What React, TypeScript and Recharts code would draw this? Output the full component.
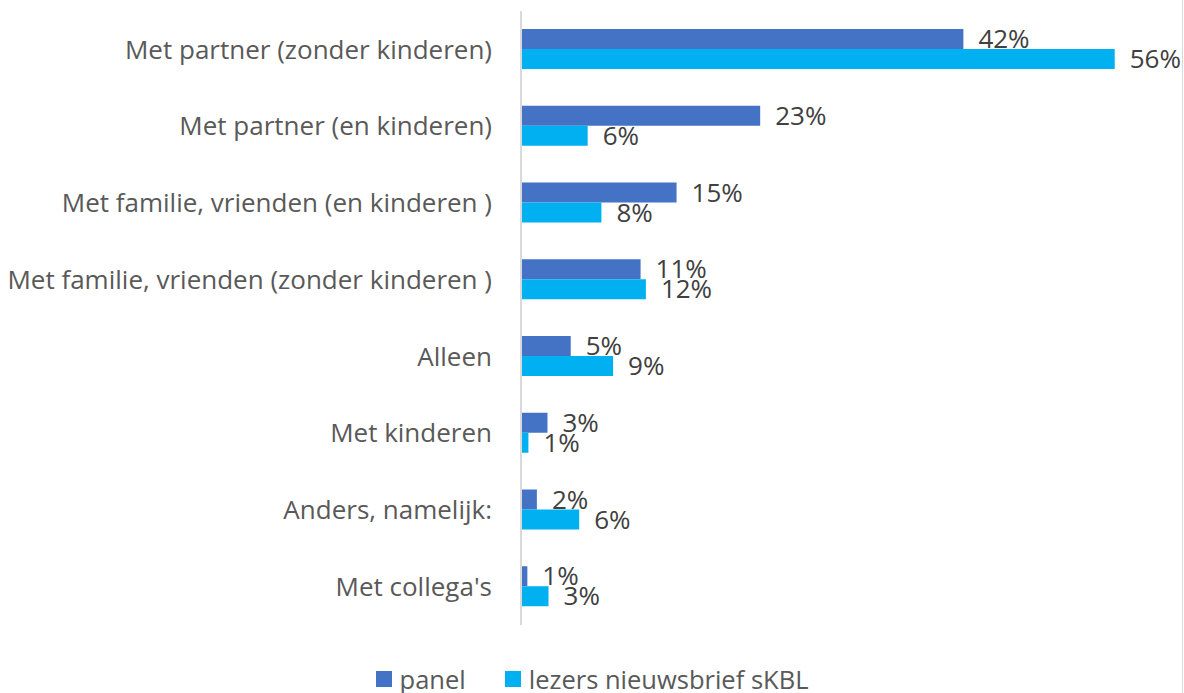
import { Bar, BarChart, LabelList, Legend, XAxis, YAxis } from "recharts";

const categories = [
  "Met partner (zonder kinderen)",
  "Met partner (en kinderen)",
  "Met familie, vrienden (en kinderen )",
  "Met familie, vrienden (zonder kinderen )",
  "Alleen",
  "Met kinderen",
  "Anders, namelijk:",
  "Met collega's",
];

const panel = [41.8, 22.6, 14.7, 11.3, 4.7, 2.5, 1.5, 0.6];
const lezers = [56.1, 6.3, 7.6, 11.8, 8.7, 0.7, 5.5, 2.6];

const seriesNames = ["panel", "lezers nieuwsbrief sKBL"];
const seriesColors = ["#4472C4", "#00B0F0"];

const data = categories.map((name, i) => ({
  name,
  panel: panel[i],
  lezers: lezers[i],
}));

const FONT = "'Open Sans', sans-serif";

function renderLegend() {
  return (
    <div
      style={{
        display: "flex",
        justifyContent: "center",
        alignItems: "center",
        gap: 39,
        fontFamily: FONT,
        fontSize: 25.5,
        lineHeight: "26px",
        color: "#595959",
      }}
    >
      {seriesNames.map((n, i) => (
        <div key={n} style={{ display: "flex", alignItems: "center", gap: 8 }}>
          <span style={{ width: 16, height: 16, background: seriesColors[i], display: "inline-block" }} />
          <span>{n}</span>
        </div>
      ))}
    </div>
  );
}

export default function App() {
  return (
    <div style={{ position: "absolute", left: 0, top: 0, width: 1184, height: 693, background: "#fff", overflow: "hidden" }}>
      <BarChart
        width={1184}
        height={693}
        data={data}
        layout="vertical"
        margin={{ top: 11, right: 28, left: 0, bottom: 42 }}
        barGap={0}
      >
        <XAxis type="number" domain={[0, 60]} hide />
        <YAxis
          type="category"
          dataKey="name"
          width={521}
          axisLine={{ stroke: "#D9D9D9", strokeWidth: 2 }}
          tickLine={false}
          tickSize={0}
          tickMargin={29}
          interval={0}
          tick={{ fill: "#595959", fontSize: 26, fontFamily: FONT }}
        />
        <Legend content={renderLegend} wrapperStyle={{ top: 666, left: 0, width: 1184 }} />
        <Bar dataKey="panel" fill={seriesColors[0]} barSize={20} isAnimationActive={false}>
          <LabelList
            dataKey="panel"
            position="right"
            offset={15}
            formatter={(v: any) => `${Math.round(Number(v))}%`}
            style={{ fill: "#404040", fontSize: 26, fontFamily: FONT }}
          />
        </Bar>
        <Bar dataKey="lezers" fill={seriesColors[1]} barSize={20} isAnimationActive={false}>
          <LabelList
            dataKey="lezers"
            position="right"
            offset={15}
            formatter={(v: any) => `${Math.round(Number(v))}%`}
            style={{ fill: "#404040", fontSize: 26, fontFamily: FONT }}
          />
        </Bar>
      </BarChart>
      <div style={{ position: "absolute", right: 1, top: 0, width: 1.5, height: 693, background: "#D9D9D9" }} />
    </div>
  );
}
